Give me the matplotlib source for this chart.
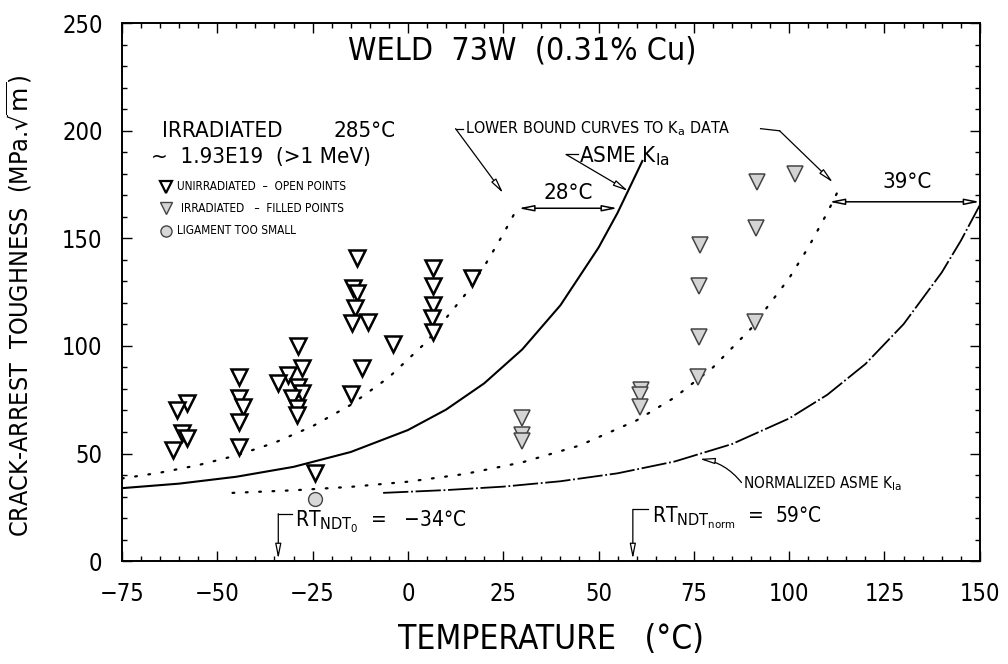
import matplotlib
matplotlib.use("Agg")
import matplotlib.pyplot as plt
from matplotlib.ticker import MultipleLocator

# --- data ---
# unirradiated (open triangles)
open_T = [-57.9, -60.6, -59.3, -58.0, -61.6,
          -44.3, -44.3, -43.3, -44.3, -44.3,
          -28.8, -27.8, -31.4, -34.0, -28.8, -27.8, -30.4, -29.0, -29.0, -24.3,
          -13.3, -14.4, -13.3, -13.8, -14.6, -10.4, -3.9, -12.0, -15.0,
          6.6, 6.6, 6.6, 6.3, 6.6, 16.9]
open_K = [73.4, 70.2, 59.5, 57.0, 51.6,
          85.5, 76.0, 71.5, 64.6, 53.0,
          100.0, 89.7, 86.4, 83.0, 81.0, 78.0, 76.0, 71.0, 68.0, 41.0,
          140.8, 127.0, 124.5, 117.6, 110.6, 111.0, 101.0, 89.7, 77.6,
          136.0, 128.0, 119.0, 113.0, 106.4, 131.5]

# irradiated (filled triangles)
filled_T = [30.0, 30.0, 30.0, 61.2, 61.0, 61.0, 76.0, 76.7, 76.4, 76.4,
            91.0, 91.4, 91.6, 101.6]
filled_K = [66.4, 58.5, 56.0, 79.5, 77.0, 71.6, 85.5, 147.0, 128.0, 104.0,
            111.0, 155.0, 176.0, 180.0]

# ligament too small
lig_T = [-24.3]
lig_K = [29.0]

# ASME K_Ia curve (solid)
asme_T = [-75, -60, -45, -30, -15, 0, 10, 20, 30, 40, 50, 55, 60, 61.5]
asme_K = [33.9, 36.0, 39.2, 43.8, 50.7, 60.9, 70.4, 82.6, 98.4, 118.9,
          145.7, 161.9, 180.4, 186.0]

# lower bound to unirradiated data (dotted)
lb1_T = [-75, -65, -55, -45, -35, -25, -15, -5, 5, 15, 20, 25, 29]
lb1_K = [38.4, 41.1, 44.6, 49.1, 55.0, 62.7, 72.6, 85.4, 102.1, 123.8,
         136.9, 152.0, 165.0]

# lower bound to irradiated data (dotted)
lb2_T = [-46, -30, -15, 0, 15, 30, 45, 60, 70, 80, 90, 100, 105, 110, 113]
lb2_K = [31.7, 32.9, 34.5, 36.9, 40.5, 45.9, 53.7, 65.4, 76.1, 90.0,
         108.1, 131.5, 145.7, 161.9, 172.7]

# normalized ASME K_Ia (dash-dot)
norm_T = [-6.5, 10, 25, 40, 55, 70, 85, 100, 110, 120, 130, 140, 145, 150]
norm_K = [31.7, 33.0, 34.6, 37.1, 40.8, 46.3, 54.4, 66.3, 77.3, 91.6,
          110.1, 134.1, 148.8, 165.4]

x_ticks = [-75, -50, -25, 0, 25, 50, 75, 100, 125, 150]
x_labels = ["\u221275", "\u221250", "\u221225", "0", "25", "50", "75",
            "100", "125", "150"]
y_ticks = [0, 50, 100, 150, 200, 250]

F = dict(family="DejaVu Sans", stretch="condensed")

fig = plt.figure(figsize=(10.08, 6.64), dpi=100)
ax = fig.add_axes([0.121, 0.155, 0.851, 0.810])

ax.plot(asme_T, asme_K, color="black", lw=1.5)
ax.plot(norm_T, norm_K, color="black", lw=1.3, linestyle=(0, (14, 1.5, 1, 1.5)))
ax.plot(lb1_T, lb1_K, color="black", lw=1.6, linestyle=(0, (0.8, 5.2)),
        dash_capstyle="round")
ax.plot(lb2_T, lb2_K, color="black", lw=1.6, linestyle=(0, (0.8, 5.2)),
        dash_capstyle="round")

ax.plot(open_T, open_K, "v", ms=11, mfc="white", mec="black", mew=1.8,
        linestyle="none")
ax.plot(filled_T, filled_K, "v", ms=11, mfc="#d4d4d4", mec="#444444", mew=1.1,
        linestyle="none")
ax.plot(lig_T, lig_K, "o", ms=10, mfc="#d8d8d8", mec="#444444", mew=1.0,
        linestyle="none")

ax.set_xlim(-75, 150)
ax.set_ylim(0, 250)
ax.set_xticks(x_ticks)
ax.set_xticklabels(x_labels)
ax.set_yticks(y_ticks)
ax.xaxis.set_minor_locator(MultipleLocator(5))
ax.yaxis.set_minor_locator(MultipleLocator(10))
ax.tick_params(which="both", direction="in", top=True, right=True, width=1)
ax.tick_params(which="major", length=7, labelsize=17)
ax.tick_params(axis="x", which="major", pad=15)
ax.tick_params(axis="y", which="major", pad=14)
ax.tick_params(which="minor", length=3.5)
for lab in ax.get_xticklabels() + ax.get_yticklabels():
    lab.set_fontfamily(F["family"])
    lab.set_fontstretch("condensed")
for sp in ax.spines.values():
    sp.set_linewidth(1.4)

ax.set_xlabel("TEMPERATURE   (\u00b0C)", fontsize=24, labelpad=12, **F)
ax.set_ylabel(r"CRACK-ARREST  TOUGHNESS  (MPa.$\sqrt{\mathrm{m}}$)",
              fontsize=18, **F)
ax.yaxis.set_label_coords(-0.103, 0.475)

# headings
ax.text(30, 237, "WELD  73W  (0.31% Cu)", fontsize=23, ha="center",
        va="center", **F)
ax.text(-64.5, 200, "IRRADIATED", fontsize=16, va="center", **F)
ax.text(-19.5, 200, "285\u00b0C", fontsize=16, va="center", **F)
ax.text(-67.5, 188, "~  1.93E19  (>1 MeV)", fontsize=16, va="center", **F)

# key
key_y = [174, 164, 153.5]
ax.plot([-63.5], [key_y[0]], "v", ms=9, mfc="white", mec="black", mew=1.6)
ax.plot([-63.5], [key_y[1]], "v", ms=9, mfc="#d4d4d4", mec="#444444", mew=1.0)
ax.plot([-63.5], [key_y[2]], "o", ms=8, mfc="#d8d8d8", mec="#444444", mew=1.0)
ax.text(-60.5, key_y[0], "UNIRRADIATED  \u2013  OPEN POINTS", fontsize=8.5,
        va="center", **F)
ax.text(-59.5, key_y[1], "IRRADIATED   \u2013  FILLED POINTS", fontsize=8.5,
        va="center", **F)
ax.text(-60.5, key_y[2], "LIGAMENT TOO SMALL", fontsize=8.5, va="center", **F)

arrow_kw = dict(arrowstyle="-|>,head_length=0.9,head_width=0.18", fc="white",
                ec="black", lw=0.9, shrinkA=0, shrinkB=0)
dbl_kw = dict(arrowstyle="<|-|>,head_length=0.9,head_width=0.18", fc="white",
              ec="black", lw=1.1, shrinkA=0, shrinkB=0)

# lower bound label and leaders
ax.text(15, 201, r"LOWER BOUND CURVES TO K$_{\mathrm{a}}$ DATA",
        fontsize=11.5, va="center", **F)
ax.plot([12.5, 14.5], [201, 201], color="black", lw=0.9)
ax.annotate("", xy=(25, 171), xytext=(12.5, 201), arrowprops=arrow_kw)
ax.plot([92.5, 97.5], [201, 200], color="black", lw=0.9)
ax.annotate("", xy=(111.5, 176), xytext=(97.5, 200), arrowprops=arrow_kw)

# ASME K_Ia label
ax.text(45, 188, r"ASME K$_{\mathrm{Ia}}$", fontsize=16, va="center", **F)
ax.plot([41.5, 44.5], [189, 189], color="black", lw=0.9)
ax.annotate("", xy=(57.8, 172), xytext=(41.5, 189), arrowprops=arrow_kw)

# shifts
ax.annotate("", xy=(29, 164), xytext=(55, 164), arrowprops=dbl_kw)
ax.text(42, 171, "28\u00b0C", fontsize=16, ha="center", va="center", **F)
ax.annotate("", xy=(110.5, 167), xytext=(150, 167), arrowprops=dbl_kw)
ax.text(131, 176, "39\u00b0C", fontsize=16, ha="center", va="center", **F)

# normalized label
ax.text(88, 36, r"NORMALIZED ASME K$_{\mathrm{Ia}}$", fontsize=11,
        va="center", **F)
ax.annotate("", xy=(76.5, 47.5), xytext=(87.5, 36.5),
            arrowprops=dict(arrowstyle="-|>,head_length=0.9,head_width=0.18",
                            fc="white", ec="black", lw=0.9,
                            connectionstyle="arc3,rad=0.2",
                            shrinkA=0, shrinkB=0))

# RT_NDT markers
ax.plot([-30.5, -34], [22, 22], color="black", lw=0.9)
ax.annotate("", xy=(-34, 1), xytext=(-34, 22), arrowprops=arrow_kw)
ax.text(-29.5, 18, "RT$_{\\mathrm{NDT_0}}$  =   \u221234\u00b0C",
        fontsize=15, va="center", **F)

ax.plot([63, 59], [24, 24], color="black", lw=0.9)
ax.annotate("", xy=(59, 1), xytext=(59, 24), arrowprops=arrow_kw)
ax.text(64, 20, "RT$_{\\mathrm{NDT_{norm}}}$  =  59\u00b0C",
        fontsize=15, va="center", **F)

fig.savefig("out.png", dpi=100)
